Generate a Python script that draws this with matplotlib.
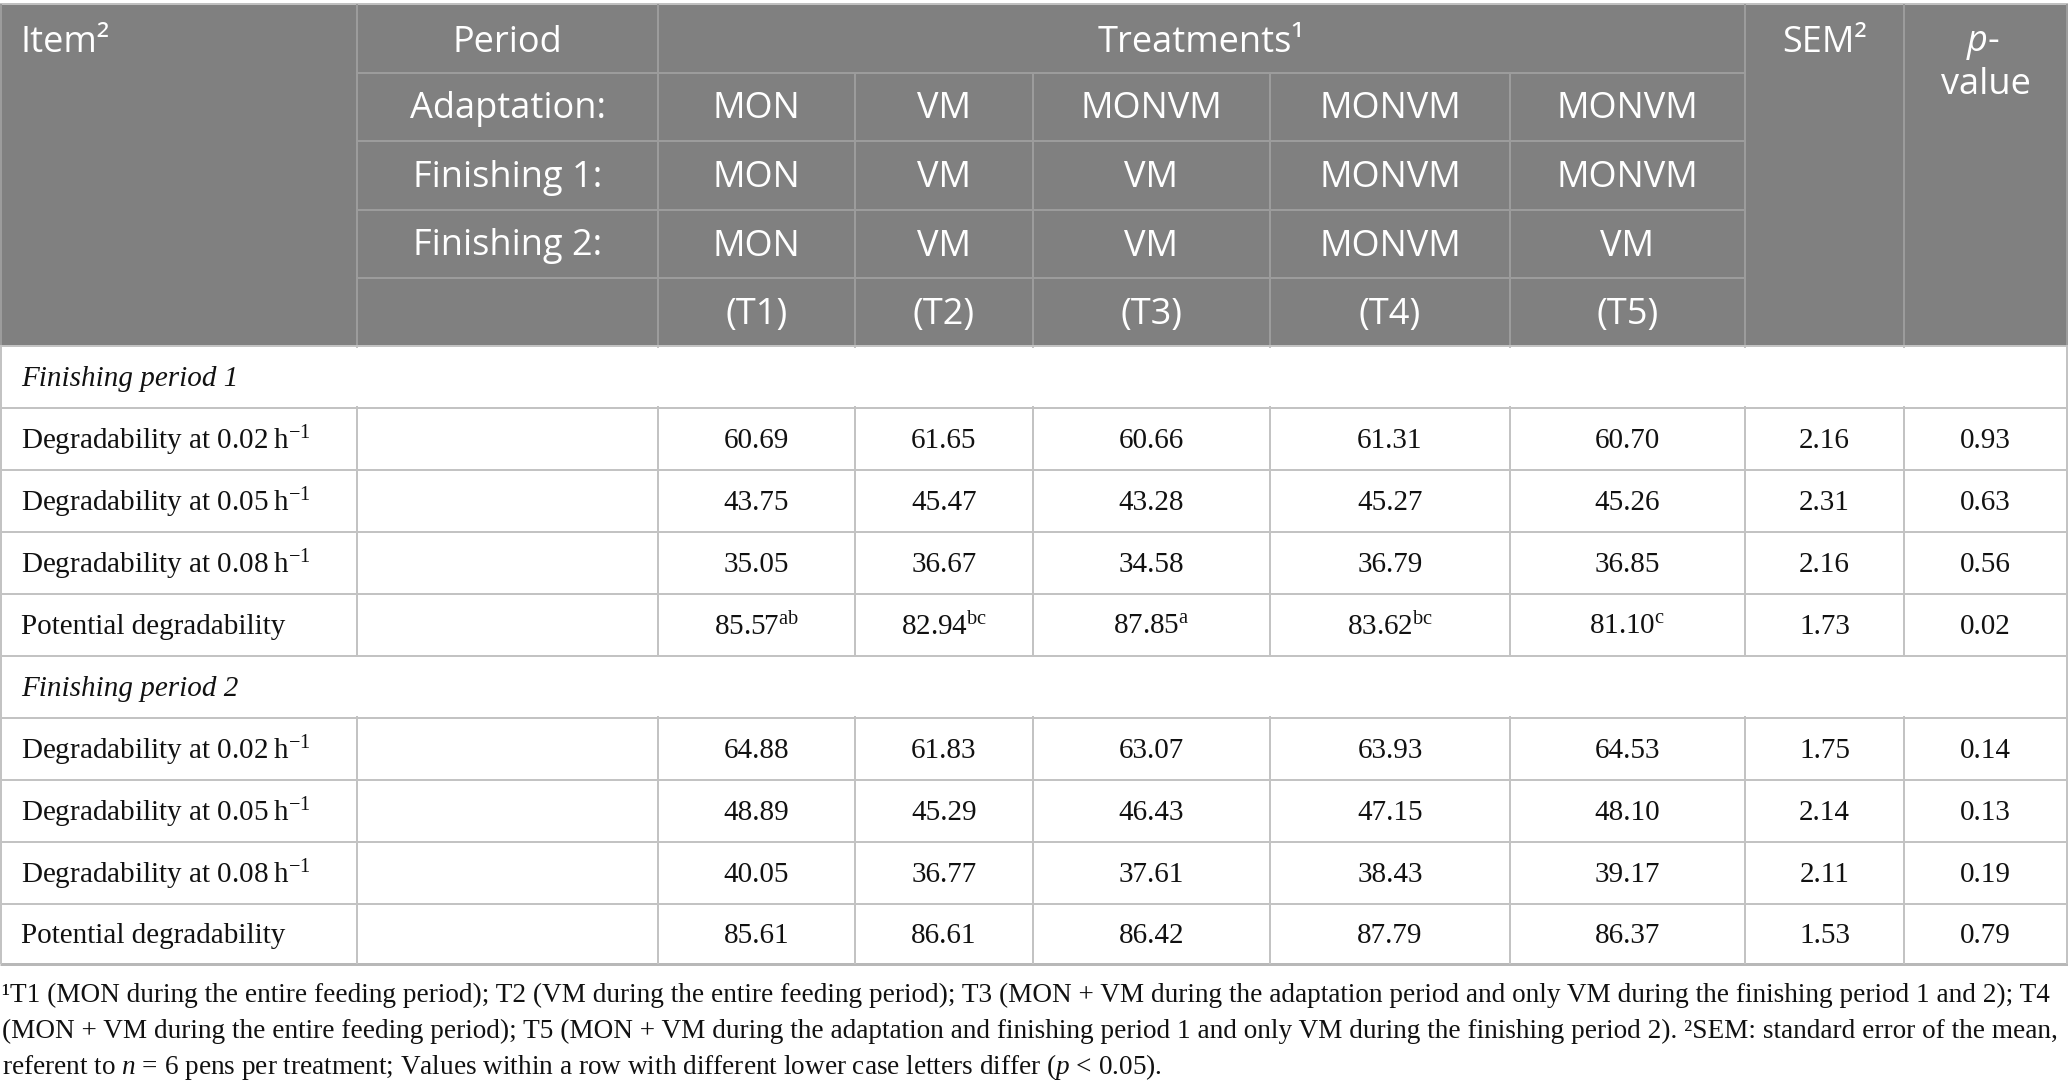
import matplotlib
matplotlib.use("Agg")
import matplotlib.pyplot as plt
from matplotlib.patches import Rectangle

plt.rcParams['mathtext.fontset'] = 'custom'
plt.rcParams['mathtext.rm'] = 'Liberation Serif'
plt.rcParams['mathtext.it'] = 'Liberation Serif:italic'

# ---------------- data ----------------
header_period = ["Period", "Adaptation:", "Finishing 1:", "Finishing 2:", ""]
adaptation = ["MON", "VM", "MONVM", "MONVM", "MONVM"]
finishing1 = ["MON", "VM", "VM", "MONVM", "MONVM"]
finishing2 = ["MON", "VM", "VM", "MONVM", "VM"]
treat_codes = ["(T1)", "(T2)", "(T3)", "(T4)", "(T5)"]

row_items = ["Degradability at 0.02\u2009h$^{-1}$", "Degradability at 0.05\u2009h$^{-1}$",
             "Degradability at 0.08\u2009h$^{-1}$", "Potential degradability"]
sections = ["Finishing period 1", "Finishing period 2"]

fp1_values = [[60.69, 61.65, 60.66, 61.31, 60.70],
              [43.75, 45.47, 43.28, 45.27, 45.26],
              [35.05, 36.67, 34.58, 36.79, 36.85],
              [85.57, 82.94, 87.85, 83.62, 81.10]]
fp1_letters = [["", "", "", "", ""], ["", "", "", "", ""], ["", "", "", "", ""],
               ["ab", "bc", "a", "bc", "c"]]
fp1_sem = [2.16, 2.31, 2.16, 1.73]
fp1_p = [0.93, 0.63, 0.56, 0.02]

fp2_values = [[64.88, 61.83, 63.07, 63.93, 64.53],
              [48.89, 45.29, 46.43, 47.15, 48.10],
              [40.05, 36.77, 37.61, 38.43, 39.17],
              [85.61, 86.61, 86.42, 87.79, 86.37]]
fp2_letters = [["", "", "", "", ""]] * 4
fp2_sem = [1.75, 2.14, 2.11, 1.53]
fp2_p = [0.14, 0.13, 0.19, 0.79]

footnotes = [
    "¹T1 (MON during the entire feeding period); T2 (VM during the entire feeding period); T3 (MON + VM during the adaptation period and only VM during the finishing period 1 and 2); T4",
    "(MON + VM during the entire feeding period); T5 (MON + VM during the adaptation and finishing period 1 and only VM during the finishing period 2). ²SEM: standard error of the mean,",
    "referent to $\\mathit{n}$ = 6 pens per treatment; Values within a row with different lower case letters differ ($\\mathit{p}$ < 0.05).",
]

# ---------------- layout ----------------
W, H = 2068, 1091
fig = plt.figure(figsize=(W / 100, H / 100), dpi=100)
ax = fig.add_axes([0, 0, 1, 1])
ax.set_xlim(0, W)
ax.set_ylim(H, 0)
ax.axis('off')

cols = [0, 357, 658, 855, 1033, 1270, 1510, 1745, 1904, 2067]
hdr_top, hdr_bot = 4, 346
hdr_rows = [4, 72.5, 141, 210, 278, 346]
body_rows = [346, 407.5, 469.5, 531.5, 593.5, 655.5, 717.5, 779.5, 841.5, 903.5, 964]

HBG = '#808080'
HLINE = '#9c9c9c'
BLINE = '#c3c3c3'
PX = 0.72  # points per pixel at 100 dpi

HFONT = 'Open Sans'
HSIZE = 26
BFONT = 'Liberation Serif'
BSIZE = 21
HDY = 2.5
BDY = 2.5

ax.add_patch(Rectangle((0, hdr_top), W, hdr_bot - hdr_top, color=HBG, lw=0, zorder=0))


def hl(y, x0, x1, c, w=2):
    ax.plot([x0, x1], [y, y], color=c, lw=w * PX, solid_capstyle='butt', zorder=2)


def vl(x, y0, y1, c, w=2):
    ax.plot([x, x], [y0, y1], color=c, lw=w * PX, solid_capstyle='butt', zorder=2)


# header lines
hl(hdr_top, 0, W, '#c0c0c0', 2)
for x in [cols[0] + 1, cols[1], cols[2], cols[7], cols[8], cols[9]]:
    vl(x, hdr_top, hdr_bot, HLINE)
for x in cols[3:7]:
    vl(x, hdr_rows[1], hdr_bot, HLINE)
for y in hdr_rows[1:5]:
    hl(y, cols[1], cols[7], HLINE)

# body lines
for y in body_rows[:-1]:
    hl(y, 0, W, BLINE)
hl(body_rows[-1], 0, W, '#b8b8b8', 3)
for x in cols:
    xx = 1 if x == 0 else x
    vl(xx, body_rows[0], body_rows[-1], BLINE)
# section rows have no inner vertical lines -> cover inner parts
for r in (0, 5):
    ax.add_patch(Rectangle((3, body_rows[r] + 1.5), W - 6, body_rows[r + 1] - body_rows[r] - 3,
                           color='white', lw=0, zorder=3))


# header text
def ht(x, y, s, ha='center', **kw):
    ax.text(x, y + HDY, s, ha=ha, va='center', color='white', fontsize=HSIZE,
            family=HFONT, weight='normal', zorder=5, **kw)


ht(21, 40, "Item²", ha='left')
ht((cols[1] + cols[2]) / 2, 40, header_period[0])
ht((cols[2] + cols[7]) / 2, 40, "Treatments¹")
ht((cols[7] + cols[8]) / 2, 40, "SEM²")
pc = (cols[8] + cols[9]) / 2
ht(pc + 2, 40, "p", ha='right', style='italic')
ht(pc + 2, 40, "-", ha='left')
ht(pc, 82, "value")

for i, lab in enumerate(header_period[1:4]):
    yc = (hdr_rows[i + 1] + hdr_rows[i + 2]) / 2
    ht((cols[1] + cols[2]) / 2, yc, lab)
for r, rowlabs in enumerate([adaptation, finishing1, finishing2, treat_codes]):
    yc = (hdr_rows[r + 1] + hdr_rows[r + 2]) / 2
    for j, lab in enumerate(rowlabs):
        ht((cols[2 + j] + cols[3 + j]) / 2, yc, lab)


# body text
def bt(x, y, s, ha='center', **kw):
    ax.text(x, y + BDY, s, ha=ha, va='center', color='#111111', fontsize=BSIZE,
            family=[BFONT, 'DejaVu Serif'], zorder=5, **kw)


def fmt(v, let):
    s = f"{v:.2f}"
    if let:
        s += "$^{\\mathrm{" + let + "}}$"
    return s


blocks = [(fp1_values, fp1_letters, fp1_sem, fp1_p), (fp2_values, fp2_letters, fp2_sem, fp2_p)]
for b, (vals, lets, sems, ps) in enumerate(blocks):
    base = b * 5
    yc = (body_rows[base] + body_rows[base + 1]) / 2
    bt(21, yc, sections[b], ha='left', style='italic')
    for i in range(4):
        y0, y1 = body_rows[base + 1 + i], body_rows[base + 2 + i]
        yc = (y0 + y1) / 2
        bt(21, yc, row_items[i], ha='left')
        for j in range(5):
            bt((cols[2 + j] + cols[3 + j]) / 2, yc, fmt(vals[i][j], lets[i][j]))
        bt((cols[7] + cols[8]) / 2, yc, f"{sems[i]:.2f}")
        bt((cols[8] + cols[9]) / 2, yc, f"{ps[i]:.2f}")

# footnotes
fy = [995, 1031, 1067]
FSIZE = 19.6
for s, y in zip(footnotes, fy):
    ax.text(2, y, s, ha='left', va='center', color='#111111', fontsize=FSIZE,
            family=BFONT, zorder=5)

fig.savefig("out.png", dpi=100)
